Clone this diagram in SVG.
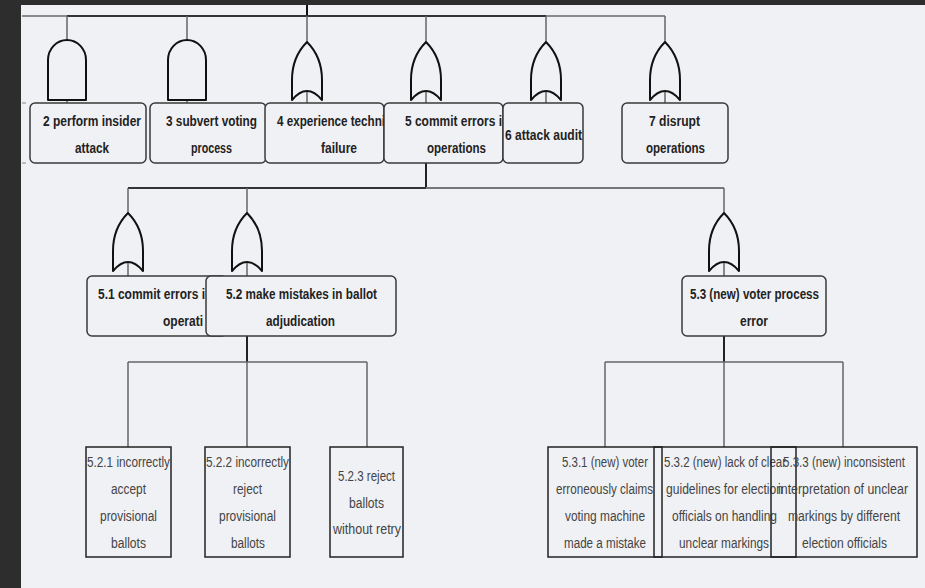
<svg xmlns="http://www.w3.org/2000/svg" width="925" height="588" viewBox="0 0 925 588">
  <style>
    .frame { fill: #2d2d2d; }
    .canvas { fill: #f0f1f5; }
    .box { fill: #f0f1f5; stroke: #3a3a3a; stroke-width: 1.5; }
    .leaf { fill: none; stroke: #222; stroke-width: 1.5; }
    .gate { fill: #f0f1f5; stroke: #111; stroke-width: 2; stroke-linejoin: round; }
    .wire { fill: none; stroke: #666; stroke-width: 1.5; }
    .wire-dark { fill: none; stroke: #333; stroke-width: 2; }
    .wire-light { fill: none; stroke: #8a8a8a; stroke-width: 2; }
    .wire-mid { fill: none; stroke: #777; stroke-width: 2; }
    .bold { font-family: "Liberation Sans", Arial, sans-serif; font-weight: bold; font-size: 14px; fill: #222; }
    .plain { font-family: "Liberation Sans", Arial, sans-serif; font-size: 14px; fill: #444; }
  </style>
  <defs>
    <!-- AND gate, top centre at origin -->
    <path id="and-gate" d="M-19 60 V20 A19 20 0 0 1 19 20 V60 Z"/>
    <!-- OR gate, pointed top at origin -->
    <path id="or-gate" d="M0 0 C10 10 15 23 15 38 L15 58 Q0 40 -15 58 L-15 38 C-15 23 -10 10 0 0 Z"/>
  </defs>

  <!-- editor frame and canvas -->
  <rect class="frame" x="0" y="0" width="925" height="588"/>
  <rect class="canvas" x="21" y="5" width="904" height="583"/>

  <!-- connectors -->
  <g id="connectors">
    <path d="M307 5 V16" stroke="#111" stroke-width="2"/>
    <path class="wire-light" d="M22 16 H67"/>
    <path class="wire-dark" d="M67 16 H546"/>
    <path class="wire-light" d="M546 16 H665"/>
    <path class="wire" d="M67 16 V103 M187 16 V103 M307 16 V103 M426 16 V103 M546 16 V103 M665 16 V103"/>
    <path d="M22 103 H26 M22 163 H26" stroke="#888" stroke-width="1.2"/>

    <path d="M426 163 V188" stroke="#222" stroke-width="2"/>
    <path class="wire-dark" d="M128 188 H426"/>
    <path class="wire-mid" d="M426 188 H724"/>
    <path class="wire" d="M128 188 V276 M247 188 V276 M724 188 V276"/>

    <path d="M247 336 V362 M724 336 V362" stroke="#222" stroke-width="2"/>
    <path class="wire" stroke-width="2" d="M128 362 H367 M605 362 H843"/>
    <path class="wire" d="M128 362 V447 M247 362 V447 M367 362 V447 M605 362 V447 M724 362 V447 M843 362 V447"/>
  </g>

  <!-- top level -->
  <g id="n2">
    <use href="#and-gate" class="gate" transform="translate(67 40)"/>
    <rect class="box" x="30" y="103" width="116" height="60" rx="5"/>
    <text class="bold" x="43" y="126" textLength="98" lengthAdjust="spacingAndGlyphs">2 perform insider</text>
    <text class="bold" x="75" y="153" textLength="34" lengthAdjust="spacingAndGlyphs">attack</text>
  </g>
  <g id="n3">
    <use href="#and-gate" class="gate" transform="translate(187 40)"/>
    <rect class="box" x="150" y="103" width="116" height="60" rx="5"/>
    <text class="bold" x="166" y="126" textLength="91" lengthAdjust="spacingAndGlyphs">3 subvert voting</text>
    <text class="bold" x="191" y="153" textLength="41" lengthAdjust="spacingAndGlyphs">process</text>
  </g>
  <g id="n4">
    <use href="#or-gate" class="gate" transform="translate(307 42)"/>
    <rect class="box" x="265" y="103" width="119" height="60" rx="5"/>
    <text class="bold" x="277" y="126" textLength="108" lengthAdjust="spacingAndGlyphs">4 experience techni</text>
    <text class="bold" x="321" y="153" textLength="36" lengthAdjust="spacingAndGlyphs">failure</text>
  </g>
  <g id="n5">
    <use href="#or-gate" class="gate" transform="translate(426 42)"/>
    <rect class="box" x="384" y="103" width="119" height="60" rx="5"/>
    <text class="bold" x="405" y="126" textLength="97" lengthAdjust="spacingAndGlyphs">5 commit errors i</text>
    <text class="bold" x="427" y="153" textLength="59" lengthAdjust="spacingAndGlyphs">operations</text>
  </g>
  <g id="n6">
    <use href="#or-gate" class="gate" transform="translate(546 42)"/>
    <rect class="box" x="503" y="103" width="80" height="60" rx="5"/>
    <text class="bold" x="505" y="140" textLength="77" lengthAdjust="spacingAndGlyphs">6 attack audit</text>
  </g>
  <g id="n7">
    <use href="#or-gate" class="gate" transform="translate(665 42)"/>
    <rect class="box" x="622" y="103" width="106" height="60" rx="5"/>
    <text class="bold" x="649" y="126" textLength="51" lengthAdjust="spacingAndGlyphs">7 disrupt</text>
    <text class="bold" x="646" y="153" textLength="59" lengthAdjust="spacingAndGlyphs">operations</text>
  </g>

  <!-- second level -->
  <g id="n5-1">
    <use href="#or-gate" class="gate" transform="translate(128 213)"/>
    <rect class="box" x="87" y="276" width="140" height="60" rx="5"/>
    <text class="bold" x="98" y="299" textLength="107" lengthAdjust="spacingAndGlyphs">5.1 commit errors i</text>
    <text class="bold" x="163" y="326" textLength="40" lengthAdjust="spacingAndGlyphs">operati</text>
  </g>
  <g id="n5-2">
    <use href="#or-gate" class="gate" transform="translate(247 213)"/>
    <rect class="box" x="206" y="276" width="190" height="60" rx="5"/>
    <text class="bold" x="226" y="299" textLength="151" lengthAdjust="spacingAndGlyphs">5.2 make mistakes in ballot</text>
    <text class="bold" x="266" y="326" textLength="69" lengthAdjust="spacingAndGlyphs">adjudication</text>
  </g>
  <g id="n5-3">
    <use href="#or-gate" class="gate" transform="translate(724 213)"/>
    <rect class="box" x="682" y="276" width="144" height="60" rx="5"/>
    <text class="bold" x="690" y="299" textLength="129" lengthAdjust="spacingAndGlyphs">5.3 (new) voter process</text>
    <text class="bold" x="740" y="326" textLength="28" lengthAdjust="spacingAndGlyphs">error</text>
  </g>

  <!-- leaves under 5.2 -->
  <g id="n5-2-1">
    <rect class="leaf" x="86" y="447" width="85" height="110"/>
    <text class="plain" x="87" y="467" textLength="83" lengthAdjust="spacingAndGlyphs">5.2.1 incorrectly</text>
    <text class="plain" x="111" y="494" textLength="35" lengthAdjust="spacingAndGlyphs">accept</text>
    <text class="plain" x="100" y="521" textLength="57" lengthAdjust="spacingAndGlyphs">provisional</text>
    <text class="plain" x="111" y="548" textLength="35" lengthAdjust="spacingAndGlyphs">ballots</text>
  </g>
  <g id="n5-2-2">
    <rect class="leaf" x="205" y="447" width="85" height="110"/>
    <text class="plain" x="206" y="467" textLength="83" lengthAdjust="spacingAndGlyphs">5.2.2 incorrectly</text>
    <text class="plain" x="233" y="494" textLength="29" lengthAdjust="spacingAndGlyphs">reject</text>
    <text class="plain" x="219" y="521" textLength="57" lengthAdjust="spacingAndGlyphs">provisional</text>
    <text class="plain" x="231" y="548" textLength="34" lengthAdjust="spacingAndGlyphs">ballots</text>
  </g>
  <g id="n5-2-3">
    <rect class="leaf" x="330" y="447" width="73" height="110"/>
    <text class="plain" x="338" y="481" textLength="57" lengthAdjust="spacingAndGlyphs">5.2.3 reject</text>
    <text class="plain" x="349" y="507.5" textLength="35" lengthAdjust="spacingAndGlyphs">ballots</text>
    <text class="plain" x="333" y="534" textLength="68" lengthAdjust="spacingAndGlyphs">without retry</text>
  </g>

  <!-- leaves under 5.3 -->
  <g id="n5-3-1">
    <rect class="leaf" x="548" y="447" width="114" height="110"/>
    <text class="plain" x="562" y="467" textLength="86" lengthAdjust="spacingAndGlyphs">5.3.1 (new) voter</text>
    <text class="plain" x="556" y="494" textLength="97" lengthAdjust="spacingAndGlyphs">erroneously claims</text>
    <text class="plain" x="565" y="521" textLength="80" lengthAdjust="spacingAndGlyphs">voting machine</text>
    <text class="plain" x="564" y="548" textLength="82" lengthAdjust="spacingAndGlyphs">made a mistake</text>
  </g>
  <g id="n5-3-2">
    <rect class="leaf" x="654" y="447" width="142" height="110"/>
    <text class="plain" x="664" y="467" textLength="122" lengthAdjust="spacingAndGlyphs">5.3.2 (new) lack of clear</text>
    <text class="plain" x="666" y="494" textLength="117" lengthAdjust="spacingAndGlyphs">guidelines for election</text>
    <text class="plain" x="672" y="521" textLength="105" lengthAdjust="spacingAndGlyphs">officials on handling</text>
    <text class="plain" x="679" y="548" textLength="90" lengthAdjust="spacingAndGlyphs">unclear markings</text>
  </g>
  <g id="n5-3-3">
    <rect class="leaf" x="771" y="447" width="146" height="110"/>
    <text class="plain" x="783" y="467" textLength="122" lengthAdjust="spacingAndGlyphs">5.3.3 (new) inconsistent</text>
    <text class="plain" x="778" y="494" textLength="130" lengthAdjust="spacingAndGlyphs">interpretation of unclear</text>
    <text class="plain" x="788" y="521" textLength="112" lengthAdjust="spacingAndGlyphs">markings by different</text>
    <text class="plain" x="802" y="548" textLength="85" lengthAdjust="spacingAndGlyphs">election officials</text>
  </g>
</svg>
